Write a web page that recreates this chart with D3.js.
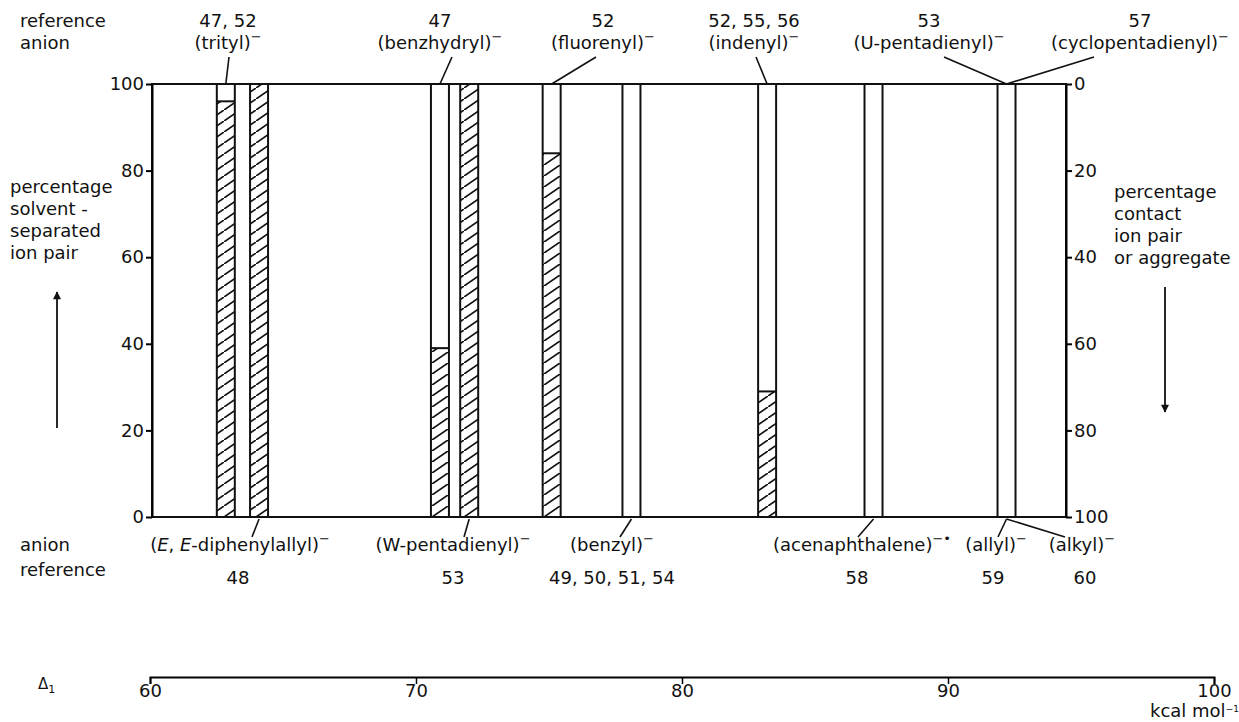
<!DOCTYPE html>
<html lang="en">
<head>
<meta charset="utf-8">
<title>Ion pair type versus Δ1</title>
<script src="https://d3js.org/d3.v7.min.js"></script>
<style>
  body { margin: 0; background: #fff; }
  svg text { font-family: "DejaVu Sans", sans-serif; font-size: 18px; fill: #111; }
</style>
</head>
<body>
<script>
// one bar per anion: position on the Δ1 scale (kcal/mol) and % solvent-separated ion pair
var delta1 = [62.85, 64.1, 70.9, 72.0, 75.1, 78.1, 83.2, 87.2, 92.2];
var separated = [96, 100, 39, 100, 84, 0, 29, 0, 0];
var pctTicks = [0, 20, 40, 60, 80, 100];
var deltaTicks = [60, 70, 80, 90, 100];

// labels above the plot (reference numbers, anion names) and the bar each points at
var topRefs = ["47, 52", "47", "52", "52, 55, 56", "53", "57"];
var topNames = ["(trityl)", "(benzhydryl)", "(fluorenyl)", "(indenyl)", "(U-pentadienyl)", "(cyclopentadienyl)"];
var topBars = [0, 2, 4, 6, 8, 8];

// labels below the plot
var bottomNames = ["(*E*, *E*-diphenylallyl)", "(W-pentadienyl)", "(benzyl)", "(acenaphthalene)", "(allyl)", "(alkyl)"];
var bottomSups = ["−", "−", "−", "−•", "−", "−"];
var bottomRefs = ["48", "53", "49, 50, 51, 54", "58", "59", "60"];
var bottomBars = [1, 3, 5, 7, 8, 8];

// layout
var W = 1239, H = 722;
var pL = 152, pR = 1066, pT = 84, pB = 517;
var barW = 18;
var topX = [228, 440, 603, 754, 929, 1140];
var topLead = [229, 452, 596, 756, 944, 1094];
var botX = [240, 453, 612, 862, 996, 1082];
var botRefX = [238, 453, 612, 857, 993, 1085];
var botLead = [252, 464, 620, 858, 998, 1065];

var svg = d3.select("body").append("svg")
  .attr("width", W).attr("height", H);

var x = d3.scaleLinear().domain([60, 100]).range([150, 1214]);
var yL = d3.scaleLinear().domain([0, 100]).range([pB, pT]);
var yR = d3.scaleLinear().domain([0, 100]).range([pT, pB]);

var defs = svg.append("defs");

// hatch pattern
var pat = defs.append("pattern")
  .attr("id", "hatch").attr("patternUnits", "userSpaceOnUse")
  .attr("width", 16).attr("height", 11);
pat.append("path").attr("d", "M0,11L16,0")
  .attr("stroke", "#111").attr("stroke-width", 1.7).attr("stroke-linecap", "square");

// frame
svg.append("rect")
  .attr("x", pL).attr("y", pT)
  .attr("width", pR - pL).attr("height", pB - pT)
  .attr("fill", "none").attr("stroke", "#111").attr("stroke-width", 2);

// bars
var bars = svg.append("g").selectAll("g").data(delta1).enter().append("g");
bars.append("rect")
  .attr("x", function(d) { return x(d) - barW / 2; })
  .attr("y", function(d, i) { return yL(separated[i]); })
  .attr("width", barW)
  .attr("height", function(d, i) { return pB - yL(separated[i]); })
  .attr("fill", "url(#hatch)");
bars.append("rect")
  .attr("x", function(d) { return x(d) - barW / 2; })
  .attr("y", pT)
  .attr("width", barW)
  .attr("height", pB - pT)
  .attr("fill", "none").attr("stroke", "#111").attr("stroke-width", 2);
bars.filter(function(d, i) { return separated[i] > 0 && separated[i] < 100; })
  .append("line")
  .attr("x1", function(d) { return x(d) - barW / 2; })
  .attr("x2", function(d) { return x(d) + barW / 2; })
  .attr("y1", function(d) { return yL(separated[delta1.indexOf(d)]); })
  .attr("y2", function(d) { return yL(separated[delta1.indexOf(d)]); })
  .attr("stroke", "#111").attr("stroke-width", 2);

// left and right axes
var axL = svg.append("g").attr("transform", "translate(" + pL + ",0)")
  .call(d3.axisLeft(yL).tickValues(pctTicks).tickSize(6).tickSizeOuter(0).tickPadding(2));
var axR = svg.append("g").attr("transform", "translate(" + pR + ",0)")
  .call(d3.axisRight(yR).tickValues(pctTicks).tickSize(6).tickSizeOuter(0).tickPadding(2));
[axL, axR].forEach(function(a) {
  a.select(".domain").attr("stroke-width", 2);
  a.selectAll(".tick line").attr("stroke-width", 2);
  a.selectAll("text").attr("font-size", null).attr("font-family", null);
});

// Δ1 axis
var axB = svg.append("g").attr("transform", "translate(0,677)")
  .call(d3.axisBottom(x).tickValues(deltaTicks).tickSize(7).tickSizeOuter(7).tickPadding(0));
axB.select(".domain").attr("stroke-width", 2);
axB.selectAll(".tick line").attr("stroke-width", 1.5);
axB.selectAll("text").attr("font-size", null).attr("font-family", null);

function sup(t, s) {
  t.append("tspan").attr("dy", -8).attr("font-size", 13).text(s);
}
function rich(t, str) {
  str.split("*").forEach(function(part, k) {
    if (!part) return;
    t.append("tspan").attr("font-style", k % 2 ? "italic" : "normal").text(part);
  });
}

// top labels
topNames.forEach(function(n, i) {
  svg.append("text").attr("x", topX[i]).attr("y", 27)
    .attr("text-anchor", "middle").text(topRefs[i]);
  var t = svg.append("text").attr("x", topX[i]).attr("y", 49).attr("text-anchor", "middle");
  t.append("tspan").text(n);
  sup(t, "−");
  svg.append("line")
    .attr("x1", topLead[i]).attr("y1", 57)
    .attr("x2", x(delta1[topBars[i]])).attr("y2", pT)
    .attr("stroke", "#111").attr("stroke-width", 1.6);
});

// bottom labels
bottomNames.forEach(function(n, i) {
  var t = svg.append("text").attr("x", botX[i]).attr("y", 551).attr("text-anchor", "middle");
  rich(t, n);
  sup(t, bottomSups[i]);
  svg.append("text").attr("x", botRefX[i]).attr("y", 584)
    .attr("text-anchor", "middle").text(bottomRefs[i]);
  svg.append("line")
    .attr("x1", x(delta1[bottomBars[i]])).attr("y1", pB + 2)
    .attr("x2", botLead[i]).attr("y2", 537)
    .attr("stroke", "#111").attr("stroke-width", 1.6);
});

// side titles
svg.append("text").attr("x", 20).attr("y", 27).text("reference");
svg.append("text").attr("x", 20).attr("y", 49).text("anion");
svg.append("text").attr("x", 20).attr("y", 551).text("anion");
svg.append("text").attr("x", 20).attr("y", 576).text("reference");

["percentage", "solvent -", "separated", "ion  pair"].forEach(function(s, i) {
  svg.append("text").attr("x", 10).attr("y", 193 + i * 22).text(s);
});
["percentage", "contact", "ion pair", "or aggregate"].forEach(function(s, i) {
  svg.append("text").attr("x", 1114).attr("y", 198 + i * 22).text(s);
});

// arrows
defs.append("marker").attr("id", "head").attr("viewBox", "0 0 10 10")
  .attr("refX", 9).attr("refY", 5).attr("markerWidth", 14).attr("markerHeight", 8)
  .attr("markerUnits", "userSpaceOnUse")
  .attr("orient", "auto")
  .append("path").attr("d", "M0,0L10,5L0,10Z").attr("fill", "#111");
svg.append("line").attr("x1", 57).attr("y1", 428).attr("x2", 57).attr("y2", 292)
  .attr("stroke", "#111").attr("stroke-width", 1.8).attr("marker-end", "url(#head)");
svg.append("line").attr("x1", 1165).attr("y1", 287).attr("x2", 1165).attr("y2", 412)
  .attr("stroke", "#111").attr("stroke-width", 1.8).attr("marker-end", "url(#head)");

// Δ1 and units
var d1 = svg.append("text").attr("x", 38).attr("y", 689);
d1.append("tspan").attr("font-size", 15).text("Δ");
d1.append("tspan").attr("font-size", 11).attr("dy", 4).text("1");
var u = svg.append("text").attr("x", 1150).attr("y", 717).attr("font-size", 13);
u.append("tspan").text("kcal mol");
u.append("tspan").attr("dy", -5).attr("font-size", 9).text("−1");
</script>
</body>
</html>
